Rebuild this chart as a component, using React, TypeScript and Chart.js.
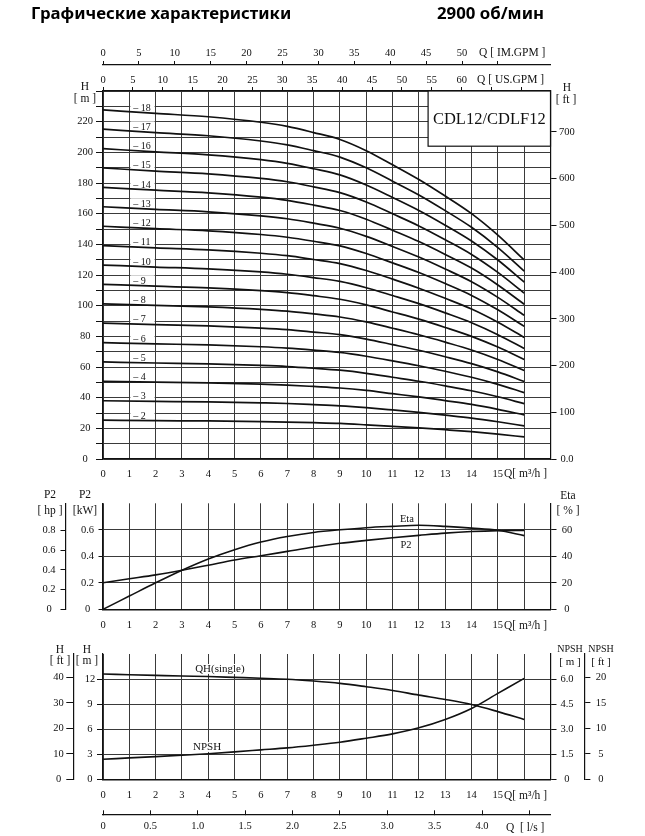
import React, { useEffect, useRef } from 'react';
import { Chart, registerables } from 'chart.js';

Chart.register(...registerables);

// ---------------- data: multi-stage QH curves (m) ----------------
const Q_STAGE = [0, 2, 4, 6, 7, 8, 9, 10, 11, 12, 13, 14, 15, 16];
const H_2 = [25.3, 25.0, 24.8, 24.4, 24.1, 23.7, 23.2, 22.3, 21.3, 20.3, 19.1, 17.8, 16.2, 14.4];
const H_3 = [38.0, 37.6, 37.2, 36.6, 36.2, 35.5, 34.7, 33.5, 32.0, 30.4, 28.6, 26.7, 24.3, 21.6];
const H_4 = [50.6, 50.1, 49.6, 48.8, 48.2, 47.3, 46.3, 44.7, 42.6, 40.5, 38.1, 35.6, 32.4, 28.8];
const H_5 = [63.3, 62.6, 62.0, 61.0, 60.3, 59.2, 57.9, 55.9, 53.3, 50.7, 47.7, 44.5, 40.6, 36.1];
const H_6 = [75.9, 75.1, 74.4, 73.2, 72.3, 71.0, 69.5, 67.0, 64.0, 60.8, 57.2, 53.3, 48.7, 43.3];
const H_7 = [88.6, 87.6, 86.8, 85.4, 84.4, 82.8, 81.1, 78.2, 74.6, 70.9, 66.7, 62.2, 56.8, 50.5];
const H_8 = [101.2, 100.2, 99.2, 97.6, 96.4, 94.6, 92.6, 89.4, 85.3, 81.0, 76.2, 71.1, 64.9, 57.7];
const H_9 = [113.9, 112.7, 111.6, 109.8, 108.5, 106.5, 104.2, 100.5, 95.9, 91.2, 85.8, 80.0, 73.0, 64.9];
const H_10 = [126.5, 125.2, 124.0, 122.0, 120.5, 118.3, 115.8, 111.7, 106.6, 101.3, 95.3, 88.9, 81.1, 72.1];
const H_11 = [139.2, 137.7, 136.4, 134.2, 132.6, 130.1, 127.4, 122.9, 117.3, 111.4, 104.8, 97.8, 89.2, 79.3];
const H_12 = [151.8, 150.2, 148.8, 146.4, 144.6, 142.0, 139.0, 134.0, 127.9, 121.6, 114.4, 106.7, 97.3, 86.5];
const H_13 = [164.5, 162.8, 161.2, 158.6, 156.7, 153.8, 150.5, 145.2, 138.6, 131.7, 123.9, 115.6, 105.4, 93.7];
const H_14 = [177.1, 175.3, 173.6, 170.8, 168.7, 165.6, 162.1, 156.4, 149.2, 141.8, 133.4, 124.5, 113.5, 100.9];
const H_15 = [189.8, 187.8, 186.0, 183.0, 180.8, 177.5, 173.7, 167.6, 159.9, 152.0, 143.0, 133.4, 121.7, 108.2];
const H_16 = [202.4, 200.3, 198.4, 195.2, 192.8, 189.3, 185.3, 178.7, 170.6, 162.1, 152.5, 142.2, 129.8, 115.4];
const H_17 = [215.1, 212.8, 210.8, 207.4, 204.9, 201.1, 196.9, 189.9, 181.2, 172.2, 162.0, 151.1, 137.9, 122.6];
const H_18 = [227.7, 225.4, 223.2, 219.6, 216.9, 212.9, 208.4, 201.1, 191.9, 182.3, 171.5, 160.0, 146.0, 129.8];
const STAGES = [2, 3, 4, 5, 6, 7, 8, 9, 10, 11, 12, 13, 14, 15, 16, 17, 18];
const H_STAGES = [H_2, H_3, H_4, H_5, H_6, H_7, H_8, H_9, H_10, H_11, H_12, H_13, H_14, H_15, H_16, H_17, H_18];
const MODEL = 'CDL12/CDLF12';

// ---------------- data: power / efficiency ----------------
const Q_PERF = [0, 1, 2, 3, 4, 5, 6, 7, 8, 9, 10, 11, 12, 13, 14, 15, 16];
const P2_KW = [0.2, 0.23, 0.26, 0.295, 0.333, 0.372, 0.404, 0.437, 0.47, 0.498, 0.52, 0.54, 0.558, 0.575, 0.587, 0.594, 0.596];
const ETA = [0, 10, 20, 29.5, 38, 45, 50.8, 55, 58, 60, 61.6, 62.6, 63.4, 62.6, 61.3, 59.6, 55.6];

// ---------------- data: single stage QH and NPSH ----------------
const Q_SINGLE = [0, 1, 2, 3, 4, 5, 6, 7, 8, 9, 10, 11, 12, 13, 14, 15, 16];
const QH_SINGLE = [12.6, 12.52, 12.44, 12.36, 12.3, 12.2, 12.1, 11.98, 11.76, 11.48, 11.08, 10.64, 10.08, 9.56, 8.95, 8.1, 7.16];
const NPSH_M = [1.2, 1.28, 1.36, 1.44, 1.53, 1.64, 1.76, 1.88, 2.04, 2.22, 2.46, 2.72, 3.08, 3.58, 4.24, 5.14, 6.04];

// ---------------- ticks ----------------
const Q_TICKS = [0, 1, 2, 3, 4, 5, 6, 7, 8, 9, 10, 11, 12, 13, 14, 15, 16, 17];
const Q_LAST_LABEL = 15;
const IM_TICKS = [0, 5, 10, 15, 20, 25, 30, 35, 40, 45, 50, 55];
const IM_LAST_LABEL = 50;
const US_TICKS = [0, 5, 10, 15, 20, 25, 30, 35, 40, 45, 50, 55, 60, 65, 70];
const US_LAST_LABEL = 60;
const HM_TICKS = [0, 10, 20, 30, 40, 50, 60, 70, 80, 90, 100, 110, 120, 130, 140, 150, 160, 170, 180, 190, 200, 210, 220, 230, 240];
const HM_LAST_LABEL = 220;
const HFT_TICKS = [0, 100, 200, 300, 400, 500, 600, 700];
const KW_TICKS = [0, 0.2, 0.4, 0.6];
const HP_TICKS = [0, 0.2, 0.4, 0.6, 0.8];
const ETA_TICKS = [0, 20, 40, 60];
const HS_M_TICKS = [0, 3, 6, 9, 12];
const HS_FT_TICKS = [0, 10, 20, 30, 40];
const NPSH_M_TICKS = [0, 1.5, 3, 4.5, 6];
const NPSH_FT_TICKS = [0, 5, 10, 15, 20];
const LS_TICKS = [0, 0.5, 1, 1.5, 2, 2.5, 3, 3.5, 4, 4.5];
const LS_LAST_LABEL = 4;

// ---------------- ranges / unit conversions ----------------
const Q_MAX = 17;
const M3H_TO_IMGPM = 3.6662;
const M3H_TO_USGPM = 4.4029;
const M3H_TO_LS = 1 / 3.6;
const M_TO_FT = 1 / 0.3048;
const KW_TO_HP = 1 / 0.7457;
const H_MAX = 240;
const KW_MAX = 0.8;
const ETA_MAX = 80;
const HS_MAX = 15;
const NPSH_MAX = 7.5;

// ---------------- styles ----------------
const SERIF = "'Liberation Serif', 'Times New Roman', serif";
const INK = '#111111';
const GRID = '#3a3a3a';
const TICK_SIZE = 10.5;

type Pos = 'left' | 'right' | 'top' | 'bottom';
interface AxisOpt {
  pos: Pos;
  min: number;
  max: number;
  ticks: number[];
  size: number;
  weight?: number;
  label: (v: number) => string;
  onArea: boolean;
  tl: number;
  pad: number;
  borderWidth?: number;
}

function axis(o: AxisOpt): any {
  const horiz = o.pos === 'top' || o.pos === 'bottom';
  return {
    type: 'linear',
    position: o.pos,
    min: o.min,
    max: o.max,
    bounds: 'data',
    weight: o.weight ?? 0,
    afterBuildTicks: (s: any) => {
      s.ticks = o.ticks.map((v) => ({ value: v }));
    },
    afterFit: (s: any) => {
      if (horiz) s.height = o.size;
      else s.width = o.size;
    },
    grid: {
      display: true,
      drawOnChartArea: o.onArea,
      drawTicks: o.tl !== 0,
      tickLength: o.tl,
      color: GRID,
      lineWidth: 1,
      tickColor: INK,
      tickWidth: 1,
    },
    border: { display: true, color: INK, width: o.borderWidth ?? 1.2 },
    ticks: {
      autoSkip: false,
      maxRotation: 0,
      minRotation: 0,
      padding: o.pad,
      color: INK,
      font: { family: SERIF, size: TICK_SIZE },
      crossAlign: horiz ? 'near' : 'center',
      callback: (v: any) => o.label(Number(v)),
    },
  };
}

function txt(
  ctx: CanvasRenderingContext2D,
  s: string,
  x: number,
  y: number,
  size: number,
  align: CanvasTextAlign = 'center',
  bg = false
) {
  ctx.save();
  ctx.font = `${size}px ${SERIF}`;
  ctx.textAlign = align;
  ctx.textBaseline = 'middle';
  if (bg) {
    const w = ctx.measureText(s).width;
    const left = align === 'left' ? x : align === 'right' ? x - w : x - w / 2;
    ctx.fillStyle = '#ffffff';
    ctx.fillRect(left - 1, y - size * 0.45, w + 2, size * 0.9);
  }
  ctx.fillStyle = INK;
  ctx.fillText(s, x, y);
  ctx.restore();
}

function baseOptions(padTop: number): any {
  return {
    responsive: false,
    maintainAspectRatio: false,
    animation: false,
    events: [],
    layout: { autoPadding: false, padding: { top: padTop, left: 0, right: 0, bottom: 0 } },
    plugins: { legend: { display: false }, tooltip: { enabled: false }, title: { display: false } },
    elements: { point: { radius: 0 } },
  };
}

function lineDs(xs: number[], ys: number[], xAxisID: string, yAxisID: string, width = 1.6): any {
  return {
    data: xs.map((x, i) => ({ x, y: ys[i] })),
    xAxisID,
    yAxisID,
    borderColor: INK,
    borderWidth: width,
    pointRadius: 0,
    fill: false,
    cubicInterpolationMode: 'monotone',
  };
}

const intLabel = (last: number) => (v: number) => (v <= last ? String(v) : '');

export default function App() {
  const c1 = useRef<HTMLCanvasElement>(null);
  const c2 = useRef<HTMLCanvasElement>(null);
  const c3 = useRef<HTMLCanvasElement>(null);

  useEffect(() => {
    const charts: Chart[] = [];

    // ---------- chart 1: multi-stage QH ----------
    const topPlugin = {
      id: 'topAnnot',
      beforeDatasetsDraw(chart: any) {
        const { ctx, scales } = chart;
        const x = scales.x;
        const y = scales.y;
        const x1 = x.getPixelForValue(1);
        const x2 = x.getPixelForValue(2);
        ctx.save();
        ctx.fillStyle = '#ffffff';
        H_STAGES.forEach((h) => {
          const cy = y.getPixelForValue(h[0] + 0.75 * (h[1] - h[0])) - 4.5;
          ctx.fillRect(x1 + 1, cy - 6, x2 - x1 - 2, 9);
        });
        ctx.restore();
      },
      afterDatasetsDraw(chart: any) {
        const { ctx, scales, chartArea } = chart;
        const x = scales.x;
        const y = scales.y;
        const x1 = x.getPixelForValue(1);
        H_STAGES.forEach((h, i) => {
          const cy = y.getPixelForValue(h[0] + 0.75 * (h[1] - h[0])) - 4.5;
          txt(ctx, '– ' + STAGES[i], x1 + 4, cy, 10, 'left');
        });
        // model box
        const bx = x.getPixelForValue(12.35);
        const by = y.getPixelForValue(204);
        ctx.save();
        ctx.fillStyle = '#ffffff';
        ctx.fillRect(bx, chartArea.top, chartArea.right - bx, by - chartArea.top);
        ctx.strokeStyle = INK;
        ctx.lineWidth = 1.2;
        ctx.strokeRect(bx, chartArea.top, chartArea.right - bx, by - chartArea.top);
        ctx.restore();
        txt(ctx, MODEL, (bx + chartArea.right) / 2, (chartArea.top + by) / 2 + 1.5, 16.5);
      },
      afterDraw(chart: any) {
        const { ctx } = chart;
        txt(ctx, 'Q [ IM.GPM ]', 479, 53, 11.5, 'left');
        txt(ctx, 'Q [ US.GPM ]', 477, 80, 11.5, 'left');
        txt(ctx, 'H', 85, 87, 11.5);
        txt(ctx, '[ m ]', 85, 99, 11.5);
        txt(ctx, 'H', 567, 88, 11.5);
        txt(ctx, '[ ft ]', 566, 100, 11.5);
        txt(ctx, 'Q[ m³/h ]', 504, 474, 11.5, 'left');
      },
    };

    if (c1.current) {
      charts.push(
        new Chart(c1.current, {
          type: 'line',
          data: { datasets: H_STAGES.map((h) => lineDs(Q_STAGE, h, 'x', 'y', 1.7)) },
          options: {
            ...baseOptions(40),
            scales: {
              x: axis({ pos: 'bottom', min: 0, max: Q_MAX, ticks: Q_TICKS, size: 26, label: intLabel(Q_LAST_LABEL), onArea: true, tl: 0, pad: 8.7 }),
              xUS: axis({ pos: 'top', weight: 0, min: 0, max: Q_MAX * M3H_TO_USGPM, ticks: US_TICKS, size: 26, label: intLabel(US_LAST_LABEL), onArea: false, tl: 4, pad: 0.7 }),
              xIM: axis({ pos: 'top', weight: 1, min: 0, max: Q_MAX * M3H_TO_IMGPM, ticks: IM_TICKS, size: 25, label: intLabel(IM_LAST_LABEL), onArea: false, tl: 4, pad: 1.7 }),
              y: axis({ pos: 'left', min: 0, max: H_MAX, ticks: HM_TICKS, size: 103, label: (v) => (v % 20 === 0 && v <= HM_LAST_LABEL ? String(v) : ''), onArea: true, tl: 7, pad: 3 }),
              yFt: axis({ pos: 'right', min: 0, max: H_MAX * M_TO_FT, ticks: HFT_TICKS, size: 94.5, label: (v) => (v === 0 ? '0.0' : String(v)), onArea: false, tl: 6, pad: 2.6 }),
            },
          },
          plugins: [topPlugin],
        } as any)
      );
    }

    // ---------- chart 2: P2 / Eta ----------
    const midPlugin = {
      id: 'midAnnot',
      afterDraw(chart: any) {
        const { ctx, scales } = chart;
        txt(ctx, 'P2', 50, 10, 11.5);
        txt(ctx, '[ hp ]', 50, 26, 11.5);
        txt(ctx, 'P2', 85, 10, 11.5);
        txt(ctx, '[kW]', 85, 26, 11.5);
        txt(ctx, 'Eta', 568, 11, 11.5);
        txt(ctx, '[ % ]', 568, 26, 11.5);
        txt(ctx, 'Q[ m³/h ]', 504, 140.7, 11.5, 'left');
        txt(ctx, 'Eta', scales.x.getPixelForValue(11.28), scales.yEta.getPixelForValue(63.4) - 6, 10.5, 'left');
        txt(ctx, 'P2', scales.x.getPixelForValue(11.3), scales.y.getPixelForValue(0.549) + 8.5, 10.5, 'left');
      },
    };

    if (c2.current) {
      charts.push(
        new Chart(c2.current, {
          type: 'line',
          data: {
            datasets: [lineDs(Q_PERF, P2_KW, 'x', 'y'), lineDs(Q_PERF, ETA, 'x', 'yEta')],
          },
          options: {
            ...baseOptions(18.3),
            scales: {
              x: axis({ pos: 'bottom', min: 0, max: Q_MAX, ticks: Q_TICKS, size: 30.7, label: intLabel(Q_LAST_LABEL), onArea: true, tl: 0, pad: 10, borderWidth: 1.6 }),
              y: axis({ pos: 'left', weight: 0, min: 0, max: KW_MAX, ticks: KW_TICKS, size: 37.5, label: (v) => (v === 0 ? '0' : v.toFixed(1)), onArea: true, tl: 4.5, pad: 4.4 }),
              yHp: axis({ pos: 'left', weight: 1, min: 0, max: KW_MAX * KW_TO_HP, ticks: HP_TICKS, size: 65.5, label: (v) => (v === 0 ? '0' : v.toFixed(1)), onArea: false, tl: 5, pad: 4.9 }),
              yEta: axis({ pos: 'right', min: 0, max: ETA_MAX, ticks: ETA_TICKS, size: 94.5, label: (v) => String(v), onArea: false, tl: 6, pad: 5.2 }),
            },
          },
          plugins: [midPlugin],
        } as any)
      );
    }

    // ---------- chart 3: single-stage QH / NPSH ----------
    const botPlugin = {
      id: 'botAnnot',
      afterDraw(chart: any) {
        const { ctx, scales } = chart;
        txt(ctx, 'H', 60, 10, 11.5);
        txt(ctx, '[ ft ]', 60, 21, 11.5);
        txt(ctx, 'H', 87, 10, 11.5);
        txt(ctx, '[ m ]', 87, 21, 11.5);
        txt(ctx, 'NPSH', 570, 9.3, 10);
        txt(ctx, '[ m ]', 570, 22.3, 11);
        txt(ctx, 'NPSH', 601, 9.3, 10);
        txt(ctx, '[ ft ]', 601, 22.3, 11);
        txt(ctx, 'Q[ m³/h ]', 504, 155.7, 11.5, 'left');
        txt(ctx, 'Q  [ l/s ]', 506, 187.7, 11.5, 'left');
        txt(ctx, 'QH(single)', scales.x.getPixelForValue(3.5), scales.y.getPixelForValue(12.25) - 8, 11, 'left', true);
        txt(ctx, 'NPSH', scales.x.getPixelForValue(3.42), scales.yN.getPixelForValue(1.54) - 6.6, 11, 'left', true);
      },
    };

    if (c3.current) {
      charts.push(
        new Chart(c3.current, {
          type: 'line',
          data: {
            datasets: [lineDs(Q_SINGLE, QH_SINGLE, 'x', 'y'), lineDs(Q_SINGLE, NPSH_M, 'x', 'yN')],
          },
          options: {
            ...baseOptions(14),
            scales: {
              x: axis({ pos: 'bottom', weight: 0, min: 0, max: Q_MAX, ticks: Q_TICKS, size: 35, label: intLabel(Q_LAST_LABEL), onArea: true, tl: 0, pad: 10, borderWidth: 1.4 }),
              xLs: axis({ pos: 'bottom', weight: 1, min: 0, max: Q_MAX * M3H_TO_LS, ticks: LS_TICKS, size: 21.7, label: (v) => (v === 0 ? '0' : v <= LS_LAST_LABEL ? v.toFixed(1) : ''), onArea: false, tl: -4, pad: 10.1 }),
              y: axis({ pos: 'left', weight: 0, min: 0, max: HS_MAX, ticks: HS_M_TICKS, size: 29.7, label: (v) => String(v), onArea: true, tl: 6, pad: 1.8 }),
              yFt: axis({ pos: 'left', weight: 1, min: 0, max: HS_MAX * M_TO_FT, ticks: HS_FT_TICKS, size: 73.3, label: (v) => String(v), onArea: false, tl: 7, pad: 2.5 }),
              yN: axis({ pos: 'right', weight: 0, min: 0, max: NPSH_MAX, ticks: NPSH_M_TICKS, size: 33.9, label: (v) => (v === 0 ? '0' : v.toFixed(1)), onArea: false, tl: 6, pad: 3.9 }),
              yNFt: axis({ pos: 'right', weight: 1, min: 0, max: NPSH_MAX * M_TO_FT, ticks: NPSH_FT_TICKS, size: 60.6, label: (v) => String(v), onArea: false, tl: 6, pad: 5.3 }),
            },
          },
          plugins: [botPlugin],
        } as any)
      );
    }

    return () => {
      charts.forEach((c) => c.destroy());
    };
  }, []);

  const titleFont = "700 16.8px 'Noto Sans', 'DejaVu Sans', sans-serif";
  return (
    <div style={{ position: 'absolute', left: 0, top: 0, width: 645, height: 836, background: '#ffffff', overflow: 'hidden' }}>
      <canvas ref={c1} width={645} height={485} style={{ position: 'absolute', left: 0, top: 0 }} />
      <canvas ref={c2} width={645} height={155} style={{ position: 'absolute', left: 0, top: 485 }} />
      <canvas ref={c3} width={645} height={196} style={{ position: 'absolute', left: 0, top: 640 }} />
      <div style={{ position: 'absolute', left: 31, top: 3, font: titleFont, lineHeight: '20px', whiteSpace: 'nowrap', color: '#000' }}>
        Графические характеристики
      </div>
      <div style={{ position: 'absolute', left: 437, top: 3, font: titleFont, lineHeight: '20px', whiteSpace: 'nowrap', color: '#000' }}>
        2900 об/мин
      </div>
    </div>
  );
}
